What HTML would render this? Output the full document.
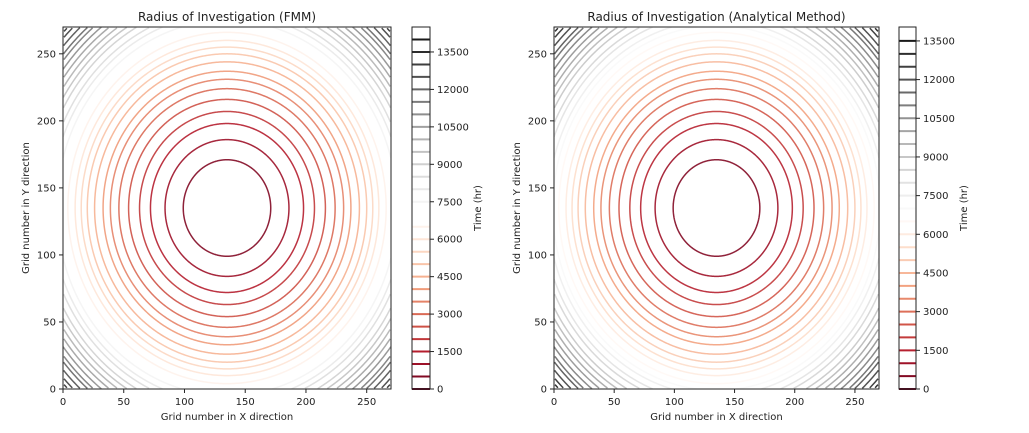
<!DOCTYPE html>
<html><head><meta charset="utf-8"><style>
html,body{margin:0;background:#fff;width:1029px;height:433px;overflow:hidden}
svg{display:block}
svg text{font-family:"DejaVu Sans","Liberation Sans",sans-serif;fill:#222}
</style></head><body>
<svg id="fig" width="1029" height="433" xmlns="http://www.w3.org/2000/svg"></svg>
<script>
const levelsFMM=[0,500,1000,1500,2000,2500,3000,3500,4000,4500,5000,5500,6000,6500,7000,7500,8000,8500,9000,9500,10000,10500,11000,11500,12000,12500,13000,13500,14000];
const radiiFMM=[0,36,51,63,72,81,89,96,102,109,115,120,125,131,136,140,145,149,154,158,162,166,170,174,177,181,185,188,192];
const levelsAna=[0,500,1000,1500,2000,2500,3000,3500,4000,4500,5000,5500,6000,6500,7000,7500,8000,8500,9000,9500,10000,10500,11000,11500,12000,12500,13000,13500];
const radiiAna=[0,36,51,63,72,81,89,96,102,109,115,120,125,131,136,140,145,149,154,158,162,166,170,174,177,181,185,188];
const axisTicks=[0,50,100,150,200,250];
const cbTicks=[0,1500,3000,4500,6000,7500,9000,10500,12000,13500];
const center=[135,135];
const NS="http://www.w3.org/2000/svg";
const svg=document.getElementById('fig');
const stops=["#67001f","#b2182b","#d6604d","#f4a582","#fddbc7","#ffffff","#e0e0e0","#bababa","#878787","#4d4d4d","#1a1a1a"];
function hex(h){return [1,3,5].map(i=>parseInt(h.substr(i,2),16));}
function cmap(f){f=Math.max(0,Math.min(1,f));const p=f*10,i=Math.min(9,Math.floor(p)),t=p-i;const a=hex(stops[i]),b=hex(stops[i+1]);return `rgb(${a.map((v,k)=>Math.round(v+(b[k]-v)*t)).join(',')})`;}
function mk(tag,attrs,parent){const e=document.createElementNS(NS,tag);for(const k in attrs)e.setAttribute(k,attrs[k]);(parent||svg).appendChild(e);return e;}
function circlePath(r,sx,sy){
  // sample circle in data coords, keep only parts inside [0,270]^2
  const N=720;let d='',pen=false;
  for(let k=0;k<=N;k++){
    const a=k/N*2*Math.PI;
    const x=center[0]+r*Math.cos(a),y=center[1]+r*Math.sin(a);
    if(x>=0&&x<=270&&y>=0&&y<=270){
      d+=(pen?'L':'M')+sx(x).toFixed(2)+','+sy(y).toFixed(2);pen=true;
    }else pen=false;
  }
  return d;
}
function panel(id,title,levels,radii,ax,cb,cbMax){
  const g=mk('g',{});
  
  
  const sx=v=>ax.x0+(v/270)*(ax.x1-ax.x0);
  const sy=v=>ax.y1-(v/270)*(ax.y1-ax.y0);
  const maxL=levels[levels.length-1];
  levels.forEach((L,i)=>{if(radii[i]<=0)return;
    const d=circlePath(radii[i],sx,sy);if(!d)return;
    const e=mk('path',{d:d,fill:'none',stroke:cmap(L/maxL),'stroke-width':1.5,'stroke-opacity':0.9},g);
    
    
  });
  mk('rect',{x:ax.x0,y:ax.y0,width:ax.x1-ax.x0,height:ax.y1-ax.y0,fill:'none',stroke:'#222','stroke-width':1},g);
  axisTicks.forEach(t=>{
    mk('line',{x1:sx(t),x2:sx(t),y1:ax.y1,y2:ax.y1+4,stroke:'#222'},g);
    const tx=mk('text',{x:sx(t),y:ax.y1+16,'text-anchor':'middle','font-size':10},g);tx.textContent=t;
    
    
    mk('line',{x1:ax.x0-4,x2:ax.x0,y1:sy(t),y2:sy(t),stroke:'#222'},g);
    const ty=mk('text',{x:ax.x0-7,y:sy(t)+3.5,'text-anchor':'end','font-size':10},g);ty.textContent=t;
    
    
  });
  const ti=mk('text',{x:(ax.x0+ax.x1)/2,y:21,'text-anchor':'middle','font-size':12},g);ti.textContent=title;
  
  
  const xl=mk('text',{x:(ax.x0+ax.x1)/2,y:420,'text-anchor':'middle','font-size':10},g);xl.textContent='Grid number in X direction';
  
  
  const yl=mk('text',{x:0,y:0,'text-anchor':'middle','font-size':10,transform:`translate(${ax.x0-34},${(ax.y0+ax.y1)/2}) rotate(-90)`},g);yl.textContent='Grid number in Y direction';
  
  
  const cy=v=>cb.y1-(v/cbMax)*(cb.y1-cb.y0);
  levels.forEach(L=>{
    const l=mk('line',{x1:cb.x0,x2:cb.x1,y1:cy(L),y2:cy(L),stroke:cmap(L/maxL),'stroke-width':2},g);
    
    
  });
  mk('rect',{x:cb.x0,y:cb.y0,width:cb.x1-cb.x0,height:cb.y1-cb.y0,fill:'none',stroke:'#222'},g);
  cbTicks.forEach(t=>{
    mk('line',{x1:cb.x1,x2:cb.x1+4,y1:cy(t),y2:cy(t),stroke:'#222'},g);
    const tt=mk('text',{x:cb.x1+7,y:cy(t)+3.5,'font-size':10},g);tt.textContent=t;
    
    
  });
  const cl=mk('text',{x:0,y:0,'text-anchor':'middle','font-size':10,transform:`translate(${cb.x1+51},${(cb.y0+cb.y1)/2}) rotate(-90)`},g);cl.textContent='Time (hr)';
  
  
}
panel('fmm','Radius of Investigation (FMM)',levelsFMM,radiiFMM,{x0:63,x1:391,y0:27,y1:389},{x0:412,x1:430,y0:27,y1:389},14500);
panel('analytical','Radius of Investigation (Analytical Method)',levelsAna,radiiAna,{x0:554,x1:879,y0:27,y1:389},{x0:899,x1:916,y0:27,y1:389},14040);
</script>
</body></html>
